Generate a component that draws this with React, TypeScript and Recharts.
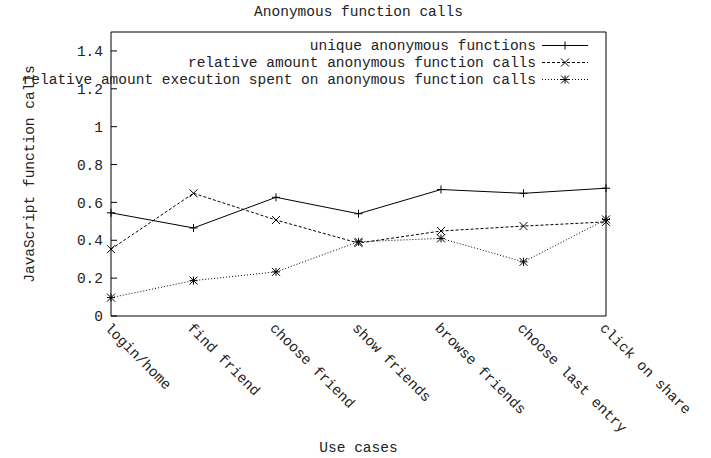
import React from "react";
import { LineChart, Line, XAxis, YAxis, Label } from "recharts";

const categories = [
  "login/home",
  "find friend",
  "choose friend",
  "show friends",
  "browse friends",
  "choose last entry",
  "click on share",
];
const uniqueFns = [0.545, 0.465, 0.627, 0.54, 0.668, 0.648, 0.675];
const relCalls = [0.353, 0.648, 0.507, 0.385, 0.449, 0.475, 0.497];
const relExec = [0.097, 0.187, 0.233, 0.392, 0.41, 0.286, 0.51];
const yTicks = [0, 0.2, 0.4, 0.6, 0.8, 1, 1.2, 1.4];
const seriesNames = [
  "unique anonymous functions",
  "relative amount anonymous function calls",
  "relative amount execution spent on anonymous function calls",
];

const FONT = "'Liberation Mono', 'DejaVu Sans Mono', monospace";
const TXT = "#222";

const rows = categories.map((name, i) => ({
  name,
  unique: uniqueFns[i],
  calls: relCalls[i],
  exec: relExec[i],
}));

type Shape = "plus" | "cross" | "star";

function marker(shape: Shape, cx: number, cy: number, r = 4) {
  const plus = (
    <>
      <line x1={cx - r} y1={cy} x2={cx + r} y2={cy} stroke="#000" />
      <line x1={cx} y1={cy - r} x2={cx} y2={cy + r} stroke="#000" />
    </>
  );
  const cross = (
    <>
      <line x1={cx - r} y1={cy - r} x2={cx + r} y2={cy + r} stroke="#000" />
      <line x1={cx - r} y1={cy + r} x2={cx + r} y2={cy - r} stroke="#000" />
    </>
  );
  return (
    <g>
      {shape !== "cross" && plus}
      {shape !== "plus" && cross}
    </g>
  );
}

const dotFor = (shape: Shape) => (p: any) =>
  <g key={p.index}>{marker(shape, p.cx, p.cy)}</g>;

const XTick = (p: any) => {
  const x = p.x - 4;
  const y = p.y + 2;
  return (
    <text
      x={x}
      y={y}
      transform={`rotate(45, ${x}, ${y})`}
      textAnchor="start"
      dominantBaseline="central"
      fontFamily={FONT}
      fontSize={14.5}
      fill={TXT}
    >
      {p.payload.value}
    </text>
  );
};

const legendStyles: { shape: Shape; dash?: string }[] = [
  { shape: "plus" },
  { shape: "cross", dash: "3 2" },
  { shape: "star", dash: "1 2" },
];

export default function App() {
  return (
    <div
      style={{
        position: "absolute",
        left: 0,
        top: 0,
        width: 711,
        height: 458,
        background: "#fff",
        fontFamily: FONT,
      }}
    >
      <LineChart
        width={711}
        height={458}
        data={rows}
        margin={{ top: 31, right: 104, bottom: 0, left: 51 }}
      >
        <XAxis
          dataKey="name"
          height={142}
          padding={{ left: 0, right: 0 }}
          tickLine={false}
          axisLine={{ stroke: "#000" }}
          tick={<XTick />}
          interval={0}
        >
          <Label
            content={(p: any) => (
              <text
                x={p.viewBox.x + p.viewBox.width / 2}
                y={448}
                textAnchor="middle"
                dominantBaseline="central"
                fontFamily={FONT}
                fontSize={14.5}
                fill={TXT}
              >
                Use cases
              </text>
            )}
          />
        </XAxis>
        <XAxis
          xAxisId="top"
          dataKey="name"
          orientation="top"
          height={1}
          padding={{ left: 0, right: 0 }}
          tickLine={false}
          tick={() => <g />}
          interval={0}
          axisLine={{ stroke: "#000" }}
        >
          <Label
            content={(p: any) => (
              <text
                x={p.viewBox.x + p.viewBox.width / 2}
                y={12}
                textAnchor="middle"
                dominantBaseline="central"
                fontFamily={FONT}
                fontSize={14.5}
                fill={TXT}
              >
                Anonymous function calls
              </text>
            )}
          />
        </XAxis>
        <YAxis
          width={60}
          domain={[0, 1.5]}
          ticks={yTicks}
          interval={0}
          tickSize={-6}
          tickMargin={14}
          tickLine={{ stroke: "#000" }}
          axisLine={{ stroke: "#000" }}
          tick={{ fontFamily: FONT, fontSize: 14.5, fill: TXT }}
        >
          <Label
            content={(p: any) => {
              const cy = p.viewBox.y + p.viewBox.height / 2;
              return (
                <text
                  x={30}
                  y={cy}
                  transform={`rotate(-90, 30, ${cy})`}
                  textAnchor="middle"
                  dominantBaseline="central"
                  fontFamily={FONT}
                  fontSize={14.5}
                  fill={TXT}
                >
                  JavaScript function calls
                </text>
              );
            }}
          />
        </YAxis>
        <YAxis
          yAxisId="right"
          orientation="right"
          width={1}
          domain={[0, 1.5]}
          ticks={yTicks}
          interval={0}
          tickSize={-6}
          tick={() => <g />}
          tickLine={{ stroke: "#000" }}
          axisLine={{ stroke: "#000" }}
        />
        <Line
          dataKey="unique"
          stroke="#000"
          strokeWidth={1}
          dot={dotFor("plus")}
          activeDot={false}
          isAnimationActive={false}
        />
        <Line
          dataKey="calls"
          stroke="#000"
          strokeWidth={1}
          strokeDasharray="3 2"
          dot={dotFor("cross")}
          activeDot={false}
          isAnimationActive={false}
        />
        <Line
          dataKey="exec"
          stroke="#000"
          strokeWidth={1}
          strokeDasharray="1 2"
          dot={dotFor("star")}
          activeDot={false}
          isAnimationActive={false}
        />
      </LineChart>
      <div
        style={{
          position: "absolute",
          left: 0,
          top: 37,
          width: 590,
          fontSize: 14.5,
          color: TXT,
        }}
      >
        {seriesNames.map((n, i) => (
          <div
            key={n}
            style={{
              display: "flex",
              justifyContent: "flex-end",
              alignItems: "center",
              height: 17,
              whiteSpace: "nowrap",
            }}
          >
            <span>{n}</span>
            <svg width={48} height={17} style={{ marginLeft: 6 }}>
              <line
                x1={0}
                y1={8.5}
                x2={46}
                y2={8.5}
                stroke="#000"
                strokeDasharray={legendStyles[i].dash}
              />
              {marker(legendStyles[i].shape, 23, 8.5)}
            </svg>
          </div>
        ))}
      </div>
    </div>
  );
}
